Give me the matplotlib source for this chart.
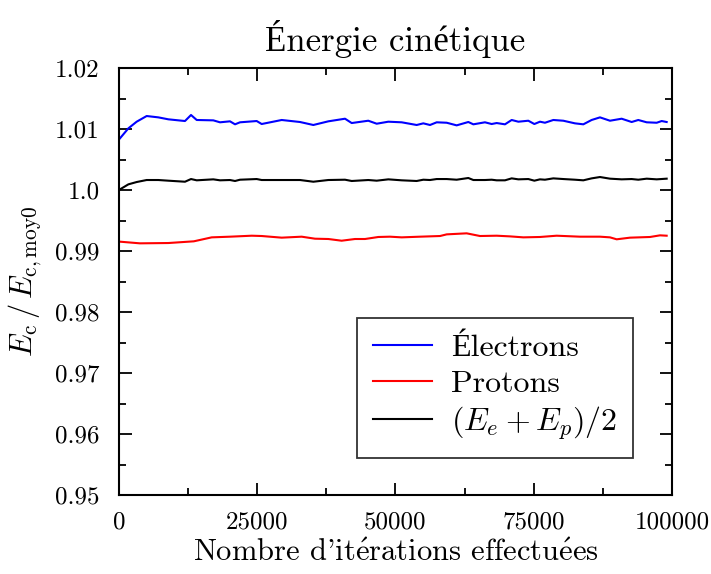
import matplotlib
matplotlib.use("Agg")
import matplotlib.pyplot as plt
from matplotlib.ticker import MultipleLocator

plt.rcParams["font.family"] = ["cmr10", "Liberation Serif"]
plt.rcParams["mathtext.fontset"] = "cm"
plt.rcParams["axes.formatter.use_mathtext"] = True

# Électrons
it_e = [180, 1690, 3190, 5000, 7110, 8920, 11930, 13020, 14050, 17050, 18260, 20070,
        20980, 21880, 24900, 25800, 29420, 32730, 35140, 37850, 40870, 42080, 45080,
        46600, 48700, 51120, 53830, 55030, 56240, 57450, 59260, 61060, 63170, 64080,
        66180, 67390, 68300, 69800, 71010, 72220, 74020, 75110, 76130, 77030, 78540,
        80350, 82460, 83970, 85470, 86980, 88790, 90900, 92710, 93910, 95430, 97240,
        98140, 99040]
ec_e = [1.00848, 1.01011, 1.0112, 1.01213, 1.01191, 1.01159, 1.01131, 1.0123, 1.01148,
        1.01142, 1.0111, 1.01126, 1.01077, 1.0111, 1.01131, 1.01082, 1.01148, 1.01115,
        1.01066, 1.01126, 1.01169, 1.01098, 1.01136, 1.01087, 1.0112, 1.0111, 1.01066,
        1.01093, 1.01066, 1.0111, 1.01103, 1.0106, 1.01115, 1.01077, 1.0111, 1.01082,
        1.01098, 1.01077, 1.01148, 1.0112, 1.01136, 1.01082, 1.0112, 1.01103, 1.01148,
        1.01136, 1.01093, 1.01077, 1.01148, 1.01191, 1.01136, 1.01169, 1.01115, 1.01148,
        1.0111, 1.01103, 1.01131, 1.01115]

# Protons
it_p = [180, 3770, 8920, 13530, 16760, 20070, 24000, 25800, 29420, 33030, 35440, 37850,
        40260, 42680, 44490, 46900, 49000, 51120, 54430, 58060, 59260, 62870, 65280,
        68300, 70710, 73120, 76130, 79140, 83370, 86980, 88790, 90000, 92410, 96030,
        97840, 99040]
ec_p = [0.99153, 0.99126, 0.99131, 0.99159, 0.99224, 0.99235, 0.99251, 0.99246, 0.99219,
        0.99235, 0.99202, 0.99197, 0.99169, 0.99197, 0.99197, 0.9923, 0.99235, 0.99224,
        0.99235, 0.99246, 0.99273, 0.9929, 0.99246, 0.99251, 0.9924, 0.99224, 0.9923,
        0.99251, 0.99235, 0.99235, 0.99224, 0.99192, 0.99219, 0.9923, 0.99257, 0.99251]

# Moyenne (Ee + Ep) / 2
it_m = [180, 1690, 3190, 5000, 7110, 8920, 11930, 13020, 14050, 17050, 18260, 20070,
        20980, 21880, 24900, 25800, 29420, 32730, 35140, 37850, 40870, 42080, 45080,
        46600, 48700, 51120, 53830, 55030, 56240, 57450, 59260, 61060, 63170, 64080,
        66180, 67390, 68300, 69800, 71010, 72220, 74020, 75110, 76130, 77030, 78540,
        80350, 82460, 83970, 85470, 86980, 88790, 90900, 92710, 93910, 95430, 97240,
        99040]
ec_m = [1.00011, 1.00093, 1.00131, 1.00164, 1.00164, 1.00153, 1.00136, 1.0018, 1.00159,
        1.00175, 1.00159, 1.00164, 1.00148, 1.00169, 1.0018, 1.00164, 1.00164, 1.00164,
        1.00136, 1.00164, 1.00169, 1.00148, 1.00164, 1.00153, 1.00175, 1.00159, 1.00148,
        1.00169, 1.00164, 1.0018, 1.0018, 1.00169, 1.00197, 1.00164, 1.00164, 1.00169,
        1.00159, 1.00159, 1.00191, 1.00175, 1.0018, 1.00153, 1.00175, 1.00169, 1.00191,
        1.0018, 1.00169, 1.00159, 1.00191, 1.00213, 1.00186, 1.00175, 1.0018, 1.00169,
        1.00186, 1.00175, 1.00186]

xticks = [0, 25000, 50000, 75000, 100000]
xtick_labels = ["0", "25000", "50000", "75000", "100000"]
yticks = [0.95, 0.96, 0.97, 0.98, 0.99, 1.0, 1.01, 1.02]
ytick_labels = ["0.95", "0.96", "0.97", "0.98", "0.99", "1.0", "1.01", "1.02"]

E_ACUTE = r"$\mathrm{\acute{e}}$"

fig = plt.figure(figsize=(7.11, 5.74), dpi=100)
ax = fig.add_axes([0.1674, 0.1376, 0.7777, 0.7439])

ax.plot(it_e, ec_e, color="#0000ff", lw=1.5, label="Électrons")
ax.plot(it_p, ec_p, color="#ff0000", lw=1.5, label="Protons")
ax.plot(it_m, ec_m, color="black", lw=1.5, label=r"$(E_e+E_p)/2$")

ax.set_xlim(0, 100000)
ax.set_ylim(0.95, 1.02)
ax.set_xticks(xticks)
ax.set_xticklabels(xtick_labels)
ax.set_yticks(yticks)
ax.set_yticklabels(ytick_labels)
ax.xaxis.set_minor_locator(MultipleLocator(12500))
ax.yaxis.set_minor_locator(MultipleLocator(0.005))
ax.tick_params(which="both", direction="in", top=True, right=True, width=1.3)
ax.tick_params(which="major", length=9, labelsize=18, pad=12)
ax.tick_params(axis="y", which="major", pad=14)
ax.tick_params(which="minor", length=5)
for s in ax.spines.values():
    s.set_linewidth(1.5)

# titre en texte simple : cmr10, avec repli pour les lettres accentuées
ax.set_title("Énergie cinétique", fontsize=25, pad=12)
ax.set_xlabel(f"Nombre d'it{E_ACUTE}rations effectu{E_ACUTE}es", fontsize=22, labelpad=4)
ax.set_ylabel(r"$E_\mathrm{c}\,/\,E_{\mathrm{c,moy0}}$", fontsize=22, labelpad=8)

leg = ax.legend(loc="upper left", bbox_to_anchor=(0.43, 0.4145),
                fontsize=23, frameon=True, fancybox=False, edgecolor="black",
                borderpad=0.5, handlelength=1.85, handletextpad=0.6,
                labelspacing=0.22, borderaxespad=0)
leg.get_frame().set_linewidth(1.3)

fig.savefig("out.png", dpi=100)
